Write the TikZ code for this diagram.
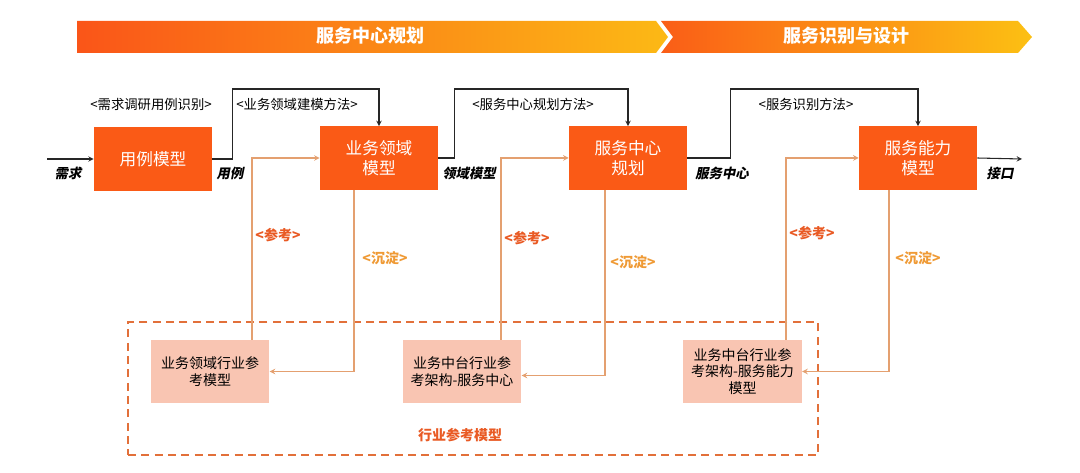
\documentclass[tikz,border=0pt]{standalone}
\usepackage{fontspec}
\setmainfont{Noto Sans CJK SC}
\newfontfamily\slcjk[FakeSlant=0.2]{Noto Sans CJK SC}
\usepackage{tikz}
\usetikzlibrary{arrows,positioning,calc}
\definecolor{boxorange}{HTML}{FA5A16}
\definecolor{reffill}{HTML}{F9C5B2}
\definecolor{refline}{HTML}{E4A070}
\definecolor{reftext}{HTML}{E95A24}
\definecolor{keeptext}{HTML}{EF9A35}
\definecolor{frameorange}{HTML}{E2703A}
\definecolor{bannerred}{HTML}{FA5518}
\definecolor{banneryellow}{HTML}{FCB915}

\begin{document}
\begin{tikzpicture}[x=0.75pt,y=-0.75pt,>=stealth,
    stage/.style={fill=boxorange, text=white, minimum width=88.5pt, minimum height=47.5pt,
                  align=center, font=\fontsize{12.5}{15}\selectfont},
    refbox/.style={fill=reffill, text=black, minimum width=89pt, minimum height=47.5pt,
                   align=center, font=\fontsize{10.5}{12.5}\selectfont},
    flow/.style={draw=black!85, line width=0.8pt},
    back/.style={draw=refline, line width=0.9pt},
    method/.style={font=\fontsize{10}{12}\selectfont},
    io/.style={font=\slcjk\bfseries\fontsize{10}{12}\selectfont},
    tag/.style={text=reftext, font=\bfseries\fontsize{10.5}{12}\selectfont}]
  \useasboundingbox (0,0) rectangle (1080,473);

  % phase banners
  \shade[left color=bannerred, right color=banneryellow]
    (77,21) -- (656,21) -- (668,37) -- (656,53) -- (77,53) -- cycle;
  \shade[left color=bannerred!95!yellow, right color=banneryellow!90!yellow]
    (661,21) -- (1018,21) -- (1032,37) -- (1018,53) -- (661,53) -- (673,37) -- cycle;
  \node[text=white, font=\bfseries\fontsize{13.5}{16}\selectfont] (plan) at (370,36) {服务中心规划};
  \node[text=white, font=\bfseries\fontsize{13.5}{16}\selectfont] (design) at (846,36) {服务识别与设计};

  % main stages
  \node[stage] (uc) at (153,159) {用例模型};
  \node[stage] (dm) at (379,158) {业务领域\\模型};
  \node[stage] (sc) at (628,158) {服务中心\\规划};
  \node[stage] (sa) at (918,158) {服务能力\\模型};

  \coordinate (in) at (47,159);
  \coordinate (out) at (1022,159);
  \draw[flow,->] (in) -- (uc.west);
  \draw[flow,->] (uc.east) -- ++(20,0) -- ++(0,-70) -| (dm.north);
  \draw[flow,->] (dm.east) -- ++(16,0) -- ++(0,-69) -| (sc.north);
  \draw[flow,->] (sc.east) -- ++(43,0) -- ++(0,-69) -| (sa.north);
  \draw[flow,->] (sa.east) -- (out);

  \node[io] (l1) at (68,173) {需求};
  \node[io] (l2) at (230,173) {用例};
  \node[io] (l3) at (469,173) {领域模型};
  \node[io] (l4) at (722,173) {服务中心};
  \node[io] (l5) at (1000,173) {接口};

  \node[method] (m1) at (151,104) {<需求调研用例识别>};
  \node[method] (m2) at (297,104) {<业务领域建模方法>};
  \node[method] (m3) at (533,104) {<服务中心规划方法>};
  \node[method] (m4) at (806,104) {<服务识别方法>};

  % industry reference models
  \node[draw=frameorange, line width=2pt, dash pattern=on 6pt off 4pt,
        minimum width=517.5pt, minimum height=99.5pt] (frame) at (473,388.5) {};
  \node[refbox] (ref1) at (210,371.5) {业务领域行业参\\考模型};
  \node[refbox] (ref2) at (462,371.5) {业务中台行业参\\考架构-服务中心};
  \node[refbox] (ref3) at (742.5,371.5) {业务中台行业参\\考架构-服务能力\\模型};
  \node[tag] (refname) at (460,435) {行业参考模型};

  \draw[back,->] ($(ref1.north)+(42,0)$) |- (dm.west);
  \draw[back,->] ($(dm.south)+(-25,0)$) |- (ref1.east);
  \draw[back,->] ($(ref2.north)+(39,0)$) |- (sc.west);
  \draw[back,->] ($(sc.south)+(-23,0)$) |- ($(ref2.east)+(0,4)$);
  \draw[back,->] ($(ref3.north)+(43.5,0)$) |- (sa.west);
  \draw[back,->] ($(sa.south)+(-29,0)$) |- (ref3.east);

  \node[tag] (c1) at (278,235) {<参考>};
  \node[tag,text=keeptext] (s1) at (385,258) {<沉淀>};
  \node[tag] (c2) at (527,238) {<参考>};
  \node[tag,text=keeptext] (s2) at (633,262) {<沉淀>};
  \node[tag] (c3) at (812,233) {<参考>};
  \node[tag,text=keeptext] (s3) at (918,258) {<沉淀>};
\end{tikzpicture}
\end{document}
